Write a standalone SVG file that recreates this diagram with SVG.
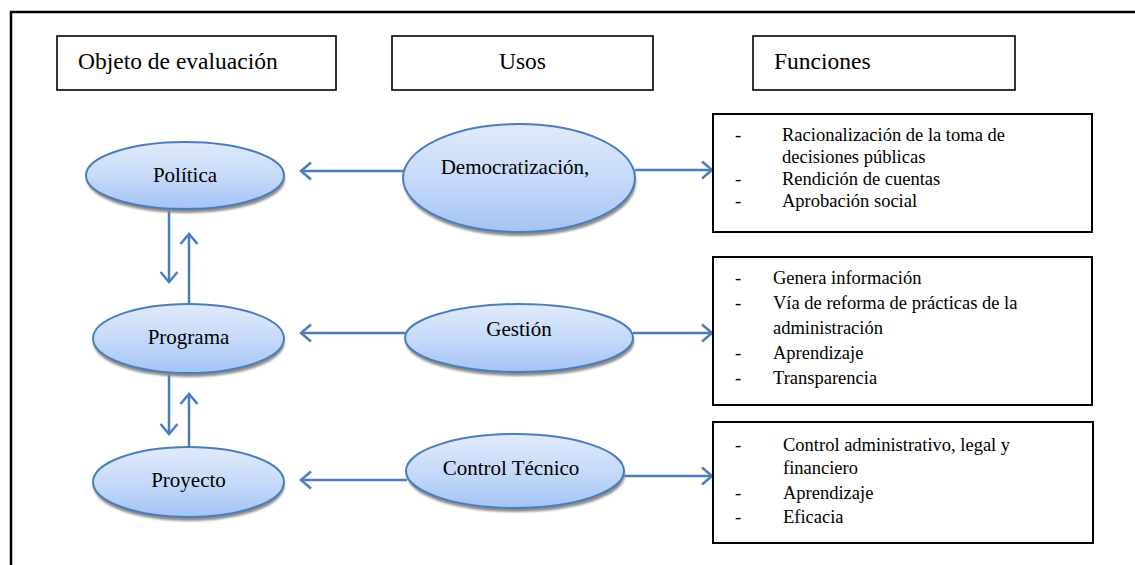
<svg xmlns="http://www.w3.org/2000/svg" width="1135" height="565" viewBox="0 0 1135 565">
  <style>
    .frame { fill: none; stroke: #000; stroke-width: 2.5; }
    .hdr { fill: #fff; stroke: #000; stroke-width: 1.6; }
    .fbox { fill: #fff; stroke: #000; stroke-width: 2; }
    text { font-family: 'Liberation Serif', 'DejaVu Serif', serif; fill: #000; }
    .hdr-t { font-size: 23.5px; }
    .node-t { font-size: 21px; text-anchor: middle; }
    .list-t { font-size: 18.5px; }
    .oval { fill: url(#ovalFill); stroke: #4a7ebb; stroke-width: 2; }
    .oval-sh { fill: #8c8c8c; filter: url(#soft); }
    .conn { fill: none; stroke: #4a7ebb; stroke-width: 2.5; marker-end: url(#chev); }
  </style>
  <defs>
    <linearGradient id="ovalFill" x1="0" y1="0" x2="0" y2="1">
      <stop offset="0" stop-color="#e0eafb"/>
      <stop offset="0.5" stop-color="#c7dafa"/>
      <stop offset="1" stop-color="#a4c3f5"/>
    </linearGradient>
    <filter id="soft" x="-10%" y="-10%" width="120%" height="130%">
      <feGaussianBlur stdDeviation="1.2"/>
    </filter>
    <marker id="chev" markerUnits="userSpaceOnUse" markerWidth="24" markerHeight="24" refX="13" refY="12" orient="auto">
      <path d="M3,3.5 L13,12 L3,20.5" fill="none" stroke="#4a7ebb" stroke-width="2.5"/>
    </marker>
  </defs>

  <rect width="1135" height="565" fill="#fff"/>
  <!-- outer frame -->
  <path class="frame" d="M11,570 L11,12 L1140,12"/>

  <!-- column headers -->
  <g id="hdr-objeto">
    <rect class="hdr" x="57" y="36" width="279" height="54"/>
    <text class="hdr-t" x="78" y="69" font-family="Liberation Serif, serif">Objeto de evaluación</text>
  </g>
  <g id="hdr-usos">
    <rect class="hdr" x="392" y="36" width="261" height="54"/>
    <text class="hdr-t" x="522.5" y="69" text-anchor="middle">Usos</text>
  </g>
  <g id="hdr-funciones">
    <rect class="hdr" x="753" y="36" width="262" height="54"/>
    <text class="hdr-t" x="774" y="69">Funciones</text>
  </g>

  <!-- connectors -->
  <g id="connectors">
    <line class="conn" x1="404" y1="171" x2="301" y2="171"/>
    <line class="conn" x1="635" y1="170" x2="712" y2="170"/>
    <line class="conn" x1="406" y1="333" x2="301" y2="333"/>
    <line class="conn" x1="633" y1="333" x2="712" y2="333"/>
    <line class="conn" x1="407" y1="480" x2="301" y2="480"/>
    <line class="conn" x1="624" y1="476" x2="712" y2="476"/>
    <line class="conn" x1="169" y1="209" x2="169" y2="282"/>
    <line class="conn" x1="189" y1="305" x2="189" y2="234"/>
    <line class="conn" x1="169" y1="373" x2="169" y2="434"/>
    <line class="conn" x1="189" y1="449" x2="189" y2="394"/>
  </g>

  <!-- evaluation objects -->
  <g id="node-politica">
    <ellipse class="oval-sh" cx="186" cy="179.5" rx="99" ry="33.5"/>
    <ellipse class="oval" cx="185" cy="175.5" rx="99" ry="33.5"/>
    <text class="node-t" x="185" y="182">Política</text>
  </g>
  <g id="node-programa">
    <ellipse class="oval-sh" cx="189" cy="342.5" rx="95.5" ry="34.5"/>
    <ellipse class="oval" cx="188.5" cy="338.5" rx="95.5" ry="34.5"/>
    <text class="node-t" x="188.5" y="344">Programa</text>
  </g>
  <g id="node-proyecto">
    <ellipse class="oval-sh" cx="189" cy="486" rx="95.5" ry="35"/>
    <ellipse class="oval" cx="188.5" cy="482" rx="95.5" ry="35"/>
    <text class="node-t" x="188.5" y="487">Proyecto</text>
  </g>

  <!-- uses -->
  <g id="node-democratizacion">
    <ellipse class="oval-sh" cx="520" cy="182" rx="116" ry="54"/>
    <ellipse class="oval" cx="519" cy="178" rx="116" ry="54"/>
    <text class="node-t" x="515" y="174">Democratización,</text>
  </g>
  <g id="node-gestion">
    <ellipse class="oval-sh" cx="520" cy="342" rx="114" ry="34"/>
    <ellipse class="oval" cx="519" cy="338" rx="114" ry="34"/>
    <text class="node-t" x="519" y="336">Gestión</text>
  </g>
  <g id="node-control">
    <ellipse class="oval-sh" cx="516" cy="475" rx="109" ry="37"/>
    <ellipse class="oval" cx="515" cy="471" rx="109" ry="37"/>
    <text class="node-t" x="511" y="475">Control Técnico</text>
  </g>

  <!-- functions -->
  <g id="fn-democratizacion">
    <rect class="fbox" x="713" y="114" width="379" height="118"/>
    <text class="list-t" x="735" y="141">-</text>
    <text class="list-t" x="782" y="141">Racionalización de la toma de</text>
    <text class="list-t" x="782" y="163">decisiones públicas</text>
    <text class="list-t" x="735" y="185">-</text>
    <text class="list-t" x="782" y="185">Rendición de cuentas</text>
    <text class="list-t" x="735" y="207">-</text>
    <text class="list-t" x="782" y="207">Aprobación social</text>
  </g>
  <g id="fn-gestion">
    <rect class="fbox" x="713" y="257" width="379" height="148"/>
    <text class="list-t" x="735" y="284">-</text>
    <text class="list-t" x="773" y="284">Genera información</text>
    <text class="list-t" x="735" y="309">-</text>
    <text class="list-t" x="773" y="309">Vía de reforma de prácticas de la</text>
    <text class="list-t" x="773" y="334">administración</text>
    <text class="list-t" x="735" y="359">-</text>
    <text class="list-t" x="773" y="359">Aprendizaje</text>
    <text class="list-t" x="735" y="384">-</text>
    <text class="list-t" x="773" y="384">Transparencia</text>
  </g>
  <g id="fn-control">
    <rect class="fbox" x="713" y="422" width="380" height="121"/>
    <text class="list-t" x="735" y="451">-</text>
    <text class="list-t" x="783" y="451">Control administrativo, legal y</text>
    <text class="list-t" x="783" y="474">financiero</text>
    <text class="list-t" x="735" y="499">-</text>
    <text class="list-t" x="783" y="499">Aprendizaje</text>
    <text class="list-t" x="735" y="523">-</text>
    <text class="list-t" x="783" y="523">Eficacia</text>
  </g>
</svg>
